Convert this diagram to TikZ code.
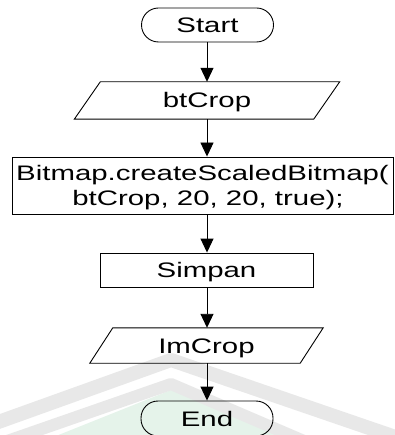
\documentclass[tikz,border=0pt]{standalone}
\usepackage{fontspec}
\newfontfamily\flowfont[FakeStretch=1.4]{Liberation Sans}
\usetikzlibrary{arrows.meta,calc}
\definecolor{wmgray}{HTML}{E8E8E8}
\definecolor{wmgreen}{HTML}{E5F3EA}
\begin{document}
\begin{tikzpicture}[x=1pt,y=-1pt,
  every node/.style={inner sep=0pt, font=\flowfont\fontsize{21}{25}\selectfont,
    text height=15pt, text depth=0pt},
  outline/.style={line width=0.9pt, draw=black},
  procbox/.style={outline, rectangle},
  termbox/.style={outline, rounded corners=17pt, minimum width=132pt},
  flow/.style={line width=0.9pt, -{Triangle[width=13pt,length=14pt]}}]

% page
\fill[white] (0,0) rectangle (394,435);
\useasboundingbox (0,0) rectangle (394,435);

% faint background emblem
\fill[wmgreen] (56,436) -- (171,390) -- (284,436) -- cycle;
\draw[wmgray, line width=12pt, line join=round] (-10,447) -- (171,384) -- (318,447);
\draw[wmgray, line width=14pt, line join=round] (-10,425) -- (171,360) -- (410,442);

% nodes
\node[termbox, minimum height=34pt] (start) at (207.5,25) {Start};
\node[minimum width=239pt, minimum height=37pt] (io1) at (207,100.5) {btCrop};
\node[procbox, minimum width=381pt, minimum height=57pt, align=center,
      text height=40pt, text depth=0pt] (proc) at (202.5,185.5)
      {Bitmap.createScaledBitmap(\\\hspace*{11pt}btCrop, 20, 20, true);};
\node[procbox, minimum width=213pt, minimum height=34pt] (save) at (206.5,270) {Simpan};
\node[minimum width=210pt, minimum height=35pt] (io2) at (206.5,345.5) {ImCrop};
\node[termbox, minimum height=35pt] (stop) at (207,418.5) {End};

% data (parallelogram) outlines
\draw[outline] ([xshift=13pt]io1.north west) -- ([xshift=13pt]io1.north east)
  -- ([xshift=-13pt]io1.south east) -- ([xshift=-13pt]io1.south west) -- cycle;
\draw[outline] ([xshift=11.5pt]io2.north west) -- ([xshift=11.5pt]io2.north east)
  -- ([xshift=-11.5pt]io2.south east) -- ([xshift=-11.5pt]io2.south west) -- cycle;

% connectors
\coordinate (ax) at (207,0);
\draw[flow] (start.south -| ax) -- (io1.north -| ax);
\draw[flow] (io1.south -| ax) -- (proc.north -| ax);
\draw[flow] (proc.south -| ax) -- (save.north -| ax);
\draw[flow] (save.south -| ax) -- (io2.north -| ax);
\draw[flow] (io2.south -| ax) -- (stop.north -| ax);
\end{tikzpicture}
\end{document}
